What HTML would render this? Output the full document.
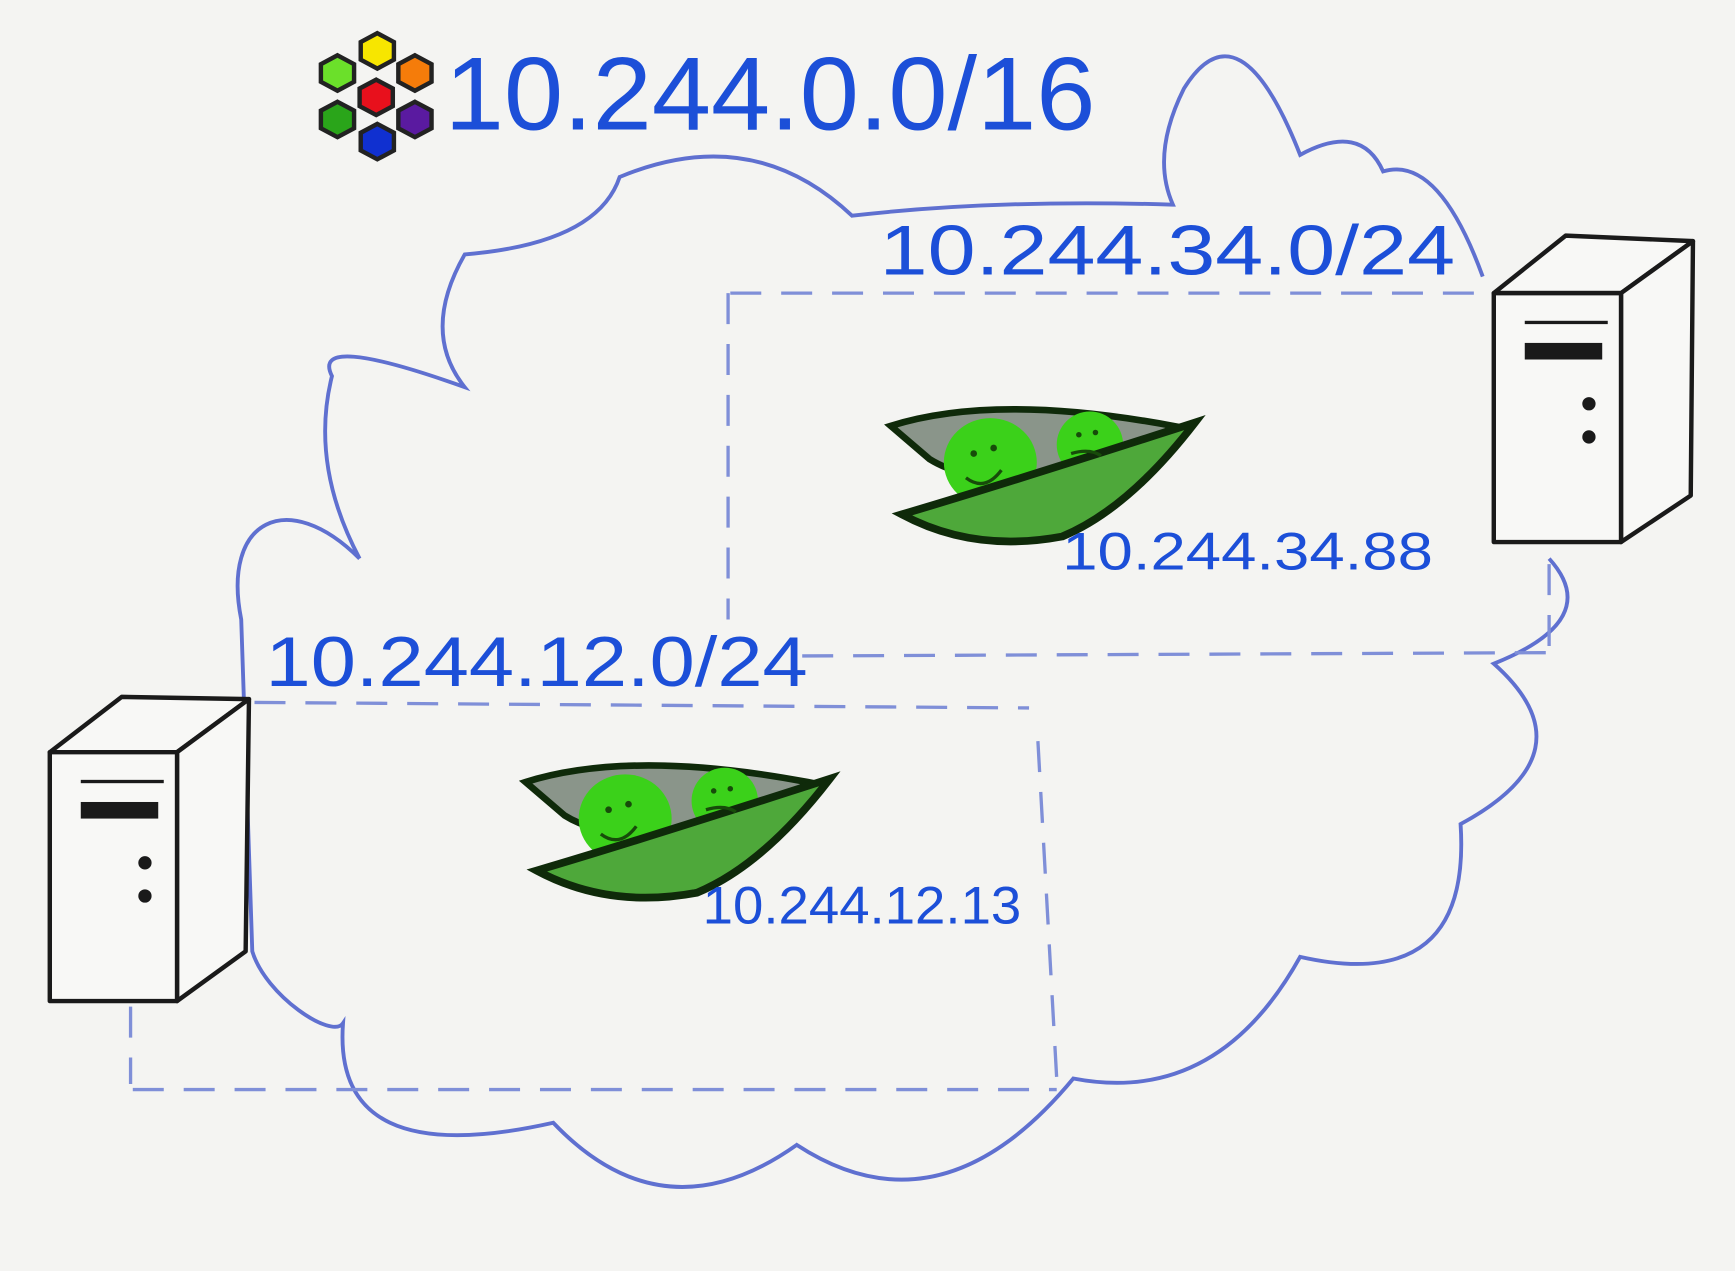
<!DOCTYPE html>
<html><head><meta charset="utf-8"><style>
html,body{margin:0;padding:0;background:#f4f4f2;}
svg{display:block}
text{font-family:"Liberation Sans",sans-serif;fill:#1c4fd8;}
</style></head><body>
<svg width="1735" height="1271" viewBox="0 0 1568 1149" preserveAspectRatio="none" xmlns="http://www.w3.org/2000/svg">
<rect width="1568" height="1149" fill="#f4f4f2"/>
<!-- cloud -->
<path d="M325,505 C260,440 200,470 218,560 L228,860 C240,900 300,940 310,925 Q300,1060 500,1015 Q600,1120 720,1035 Q850,1120 970,975 Q1100,1000 1175,865 Q1330,900 1320,745 Q1440,680 1350,600 Q1450,560 1400,505 M1340,250 Q1300,140 1250,155 Q1230,110 1175,140 Q1120,0 1070,80 Q1040,140 1060,185 Q900,180 770,195 Q680,110 560,160 Q540,220 420,230 Q380,300 420,350 Q280,300 300,340 Q280,420 325,505"
 fill="none" stroke="#5f70d0" stroke-width="3.5"/>
<!-- dashed rects -->
<g stroke="#7f8fd8" stroke-width="3" stroke-dasharray="28 18" fill="none">
<path d="M660,265 L1345,265"/><path d="M658,265 L658,560"/><path d="M725,593 L1400,590"/><path d="M1400,510 L1400,590"/>
<path d="M230,635 L930,640"/><path d="M938,670 L955,975"/><path d="M120,985 L955,985"/><path d="M118,910 L118,980"/>
</g>
<!-- servers -->
<g fill="#f8f8f6" stroke="#1a1a1a" stroke-width="4" stroke-linejoin="round">
<path d="M1350,265 L1465,265 L1530,218 L1415,213 Z"/>
<path d="M1465,265 L1530,218 L1528,448 L1465,490 Z"/>
<rect x="1350" y="265" width="115" height="225"/>
<path d="M45,680 L160,680 L225,632 L110,630 Z"/>
<path d="M160,680 L225,632 L222,860 L160,905 Z"/>
<rect x="45" y="680" width="115" height="225"/>
</g>
<g fill="#1a1a1a">
<rect x="1378" y="310" width="70" height="15"/><rect x="1378" y="290" width="75" height="3"/>
<circle cx="1436" cy="365" r="6"/><circle cx="1436" cy="395" r="6"/>
<rect x="73" y="725" width="70" height="15"/><rect x="73" y="705" width="75" height="3"/>
<circle cx="131" cy="780" r="6"/><circle cx="131" cy="810" r="6"/>
</g>
<!-- pods -->
<g id="pod">
<path d="M805,385 Q900,355 1060,385 Q1020,420 960,430 Q880,440 840,415 Z" fill="#8a958a" stroke="#0f2a0a" stroke-width="6"/>
<ellipse cx="895" cy="418" rx="42" ry="40" fill="#3bd11a"/>
<ellipse cx="985" cy="402" rx="30" ry="30" fill="#3bd11a"/>
<path d="M815,465 Q900,440 1080,382 Q1020,460 960,485 Q880,500 815,465 Z" fill="#4ea83a" stroke="#0f2a0a" stroke-width="7"/>
<circle cx="880" cy="410" r="3" fill="#174c0a"/><circle cx="898" cy="405" r="3" fill="#174c0a"/>
<path d="M873,432 Q890,445 905,425" fill="none" stroke="#174c0a" stroke-width="3"/>
<circle cx="975" cy="393" r="2.5" fill="#174c0a"/><circle cx="990" cy="391" r="2.5" fill="#174c0a"/>
<path d="M968,410 Q985,405 995,412" fill="none" stroke="#174c0a" stroke-width="3"/>
</g>
<use href="#pod" transform="translate(-330,322)"/>
<!-- logo -->
<g stroke="#222" stroke-width="4">
<polygon points="341,30 356,38 356,54 341,62 326,54 326,38" fill="#f7e600"/>
<polygon points="305,50 320,58 320,74 305,82 290,74 290,58" fill="#6be02a"/>
<polygon points="375,50 390,58 390,74 375,82 360,74 360,58" fill="#f57c0a"/>
<polygon points="340,72 355,80 355,96 340,104 325,96 325,80" fill="#e8101c"/>
<polygon points="305,92 320,100 320,116 305,124 290,116 290,100" fill="#2aa51a"/>
<polygon points="375,92 390,100 390,116 375,124 360,116 360,100" fill="#5a1aa0"/>
<polygon points="341,112 356,120 356,136 341,144 326,136 326,120" fill="#1030d0"/>
</g>
<!-- text -->
<text x="402" y="117" font-size="94" textLength="588" lengthAdjust="spacingAndGlyphs">10.244.0.0/16</text>
<text x="795" y="248" font-size="64" textLength="520" lengthAdjust="spacingAndGlyphs">10.244.34.0/24</text>
<text x="240" y="620" font-size="64" textLength="490" lengthAdjust="spacingAndGlyphs">10.244.12.0/24</text>
<text x="960" y="515" font-size="48" textLength="335" lengthAdjust="spacingAndGlyphs">10.244.34.88</text>
<text x="635" y="835" font-size="48" textLength="288" lengthAdjust="spacingAndGlyphs">10.244.12.13</text>
</svg>
</body></html>
